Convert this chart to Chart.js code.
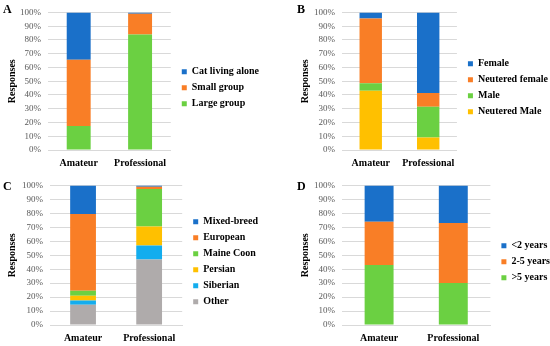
<!DOCTYPE html>
<html>
<head>
<meta charset="utf-8">
<script src="https://cdn.jsdelivr.net/npm/chart.js@4.4.0/dist/chart.umd.min.js"></script>
<style>
  html, body { margin: 0; padding: 0; background: #fff; overflow: hidden; }
  #wrap { position: relative; width: 550px; height: 346px; overflow: hidden; }
  .panel { position: absolute; }
  .letter {
    position: absolute;
    font-family: "Liberation Serif", serif;
    font-weight: bold;
    font-size: 12px;
    line-height: 12px;
    color: #000;
  }
</style>
</head>
<body>
<div id="wrap">
  <div class="panel" style="left:0px;top:0px;width:275px;height:173px"><canvas id="chartA"></canvas></div>
  <div class="panel" style="left:275px;top:0px;width:285px;height:173px"><canvas id="chartB"></canvas></div>
  <div class="panel" style="left:0px;top:173px;width:275px;height:173px"><canvas id="chartC"></canvas></div>
  <div class="panel" style="left:275px;top:173px;width:290px;height:173px"><canvas id="chartD"></canvas></div>
  <div class="letter" style="left:3px;top:3px">A</div>
  <div class="letter" style="left:297px;top:3px">B</div>
  <div class="letter" style="left:3px;top:180px">C</div>
  <div class="letter" style="left:297px;top:180px">D</div>
</div>
<script>
// categories
const groups = ["Amateur", "Professional"];
const yTicks = [0, 10, 20, 30, 40, 50, 60, 70, 80, 90, 100];

// A - living conditions (% of responses)
const livingLarge = [17.5, 84];
const livingSmall = [48, 15];
const livingAlone = [34.5, 1];

// B - sex
const sexNeuteredMale = [43, 9];
const sexMale = [5.5, 22.5];
const sexNeuteredFemale = [47, 10];
const sexFemale = [4.5, 58.5];

// C - breed
const breedOther = [14.5, 47];
const breedSiberian = [3, 10];
const breedPersian = [3.5, 13.5];
const breedMaineCoon = [3.5, 27];
const breedEuropean = [55, 1.5];
const breedMixed = [20.5, 1];

// D - age
const ageOver5 = [43, 30];
const age2to5 = [31, 43];
const ageUnder2 = [26, 27];

const colors = {
    blue: "#1a70c9",
    orange: "#f97e26",
    green: "#6bd042",
    yellow: "#ffc000",
    cyan: "#13adee",
    gray: "#afabab"
};

const serif = "'Liberation Serif', 'Times New Roman', serif";

function makePanel(canvasId, datasets, layout) {
    const ctx = document.getElementById(canvasId);
    if (!ctx) return null;

    return new Chart(ctx, {
        type: "bar",
        data: {
            labels: groups,
            datasets: datasets.map(d => ({
                label: d.label,
                data: d.data,
                backgroundColor: d.color,
                borderWidth: 0,
                barPercentage: 0.39,
                categoryPercentage: 1
            }))
        },
        options: {
            responsive: true,
            maintainAspectRatio: false,
            animation: false,
            layout: { padding: layout.padding },
            plugins: {
                tooltip: { enabled: false },
                legend: {
                    position: "right",
                    fullSize: false,
                    reverse: true,
                    maxWidth: 200,
                    // empty title only nudges the items down a little
                    title: { display: true, text: "", padding: 0, font: { size: 10, lineHeight: 1.3 } },
                    labels: {
                        boxWidth: 5,
                        boxHeight: 5,
                        padding: 6,
                        color: "#000",
                        font: { family: serif, size: 10, weight: "bold" }
                    }
                }
            },
            scales: {
                x: {
                    stacked: true,
                    grid: { display: false, drawTicks: false },
                    border: { color: "#d9d9d9" },
                    afterFit: s => { s.height = 19; },
                    ticks: {
                        padding: 7,
                        maxRotation: 0,
                        minRotation: 0,
                        autoSkip: false,
                        color: "#000",
                        font: { family: serif, size: 10, weight: "bold" }
                    }
                },
                y: {
                    stacked: true,
                    min: 0,
                    max: 100,
                    afterFit: s => { s.width = layout.yWidth; },
                    afterBuildTicks: s => { s.ticks = yTicks.map(v => ({ value: v })); },
                    grid: { color: "#d9d9d9", drawTicks: false },
                    border: { display: false },
                    ticks: {
                        padding: 7,
                        autoSkip: false,
                        color: "#595959",
                        font: { family: serif, size: 9 },
                        callback: v => v + "%"
                    },
                    title: {
                        display: true,
                        text: "Responses",
                        padding: 0,
                        color: "#000",
                        font: { family: serif, size: 10, weight: "bold" }
                    }
                },
                // thin spacer between the plot and the legend
                gap: {
                    type: "linear",
                    position: "right",
                    grid: { display: false },
                    border: { display: false },
                    ticks: { display: false },
                    afterFit: s => { s.width = 5; }
                }
            }
        }
    });
}

document.addEventListener("DOMContentLoaded", function() {
    makePanel("chartA", [
        { label: "Large group", data: livingLarge, color: colors.green },
        { label: "Small group", data: livingSmall, color: colors.orange },
        { label: "Cat living alone", data: livingAlone, color: colors.blue }
    ], { padding: { left: 6, right: 6, top: 9, bottom: 4 }, yWidth: 42 });

    makePanel("chartB", [
        { label: "Neutered Male", data: sexNeuteredMale, color: colors.yellow },
        { label: "Male", data: sexMale, color: colors.green },
        { label: "Neutered female", data: sexNeuteredFemale, color: colors.orange },
        { label: "Female", data: sexFemale, color: colors.blue }
    ], { padding: { left: 24, right: 2, top: 9, bottom: 4 }, yWidth: 43 });

    makePanel("chartC", [
        { label: "Other", data: breedOther, color: colors.gray },
        { label: "Siberian", data: breedSiberian, color: colors.cyan },
        { label: "Persian", data: breedPersian, color: colors.yellow },
        { label: "Maine Coon", data: breedMaineCoon, color: colors.green },
        { label: "European", data: breedEuropean, color: colors.orange },
        { label: "Mixed-breed", data: breedMixed, color: colors.blue }
    ], { padding: { left: 6, right: 7, top: 10, bottom: 2 }, yWidth: 44 });

    makePanel("chartD", [
        { label: ">5 years", data: ageOver5, color: colors.green },
        { label: "2-5 years", data: age2to5, color: colors.orange },
        { label: "<2 years", data: ageUnder2, color: colors.blue }
    ], { padding: { left: 24, right: 5, top: 10, bottom: 2 }, yWidth: 43 });
});
</script>
</body>
</html>
